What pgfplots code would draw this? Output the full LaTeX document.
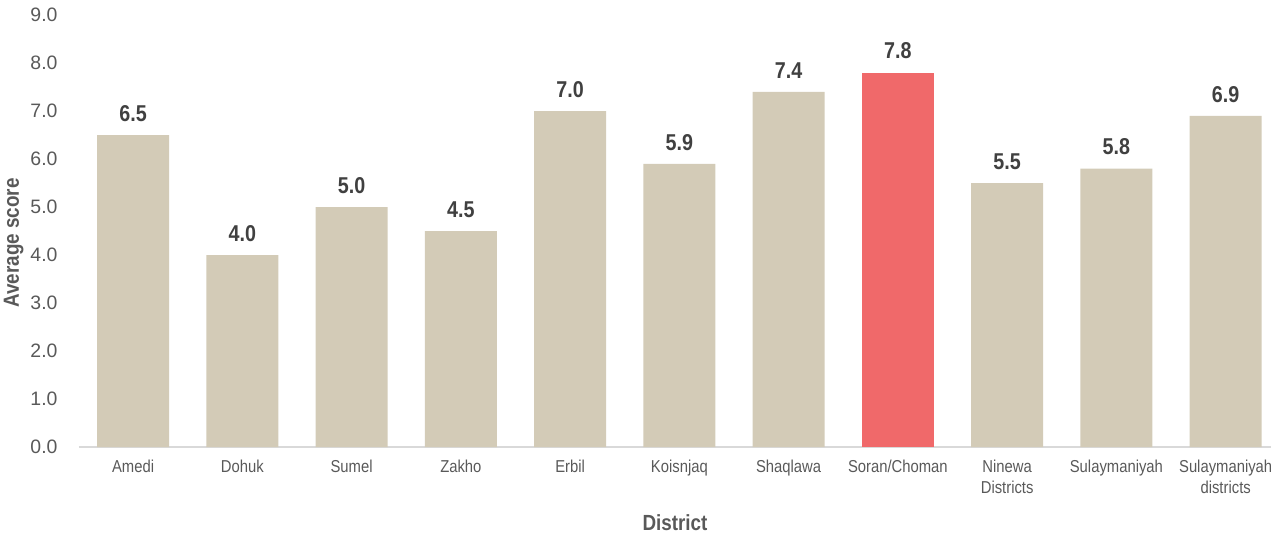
\documentclass[border=0pt]{standalone}
\usepackage{fontspec}
\setmainfont{Liberation Sans}[FakeStretch=0.86]
\newfontfamily\widesans{Liberation Sans}
\usepackage{pgfplots}
\pgfplotsset{compat=1.18}
\definecolor{barbeige}{HTML}{D3CBB7}
\definecolor{barred}{HTML}{F0696A}
\definecolor{ticktext}{HTML}{595959}
\definecolor{valtext}{HTML}{404040}
\definecolor{axisgray}{HTML}{D9D9D9}
\begin{document}
\begin{tikzpicture}
\begin{axis}[
  name=ax,
  scale only axis,
  width=1192bp, height=432bp,
  xmin=-0.495, xmax=10.415,
  ymin=0, ymax=9,
  ytick={0,1,...,9},
  yticklabel style={/pgf/number format/fixed, /pgf/number format/fixed zerofill, /pgf/number format/precision=1, /pgf/number format/assume math mode=true, font=\widesans\fontsize{19.5}{21}\selectfont, text=ticktext, xshift=-18bp},
  xtick={0,...,10},
  xticklabels={Amedi, Dohuk, Sumel, Zakho, Erbil, Koisnjaq, Shaqlawa, Soran/Choman, Ninewa\\Districts, Sulaymaniyah, Sulaymaniyah\\districts},
  xticklabel style={font=\fontsize{17.3}{22}\selectfont, text=ticktext, align=center, anchor=north, yshift=-9bp},
  major tick length=0pt,
  axis x line*=bottom,
  axis y line*=left,
  y axis line style={draw=none},
  x axis line style={axisgray, line width=1.2bp, -},
  ylabel={\textbf{Average score}},
  xlabel={\textbf{District}},
  xlabel style={font=\fontsize{22}{24}\selectfont, text=ticktext, yshift=-14bp},
  every axis y label/.style={at={(ticklabel cs:0.5)}, rotate=90, anchor=south, xshift=-12bp, font=\fontsize{22}{24}\selectfont, text=ticktext},
  ybar, bar width=72bp, bar shift=0pt,
  nodes near coords,
  nodes near coords style={font=\fontsize{23}{25}\selectfont\bfseries, text=valtext, /pgf/number format/fixed, /pgf/number format/fixed zerofill, /pgf/number format/precision=1, /pgf/number format/assume math mode=true, yshift=10bp},
  clip=false,
]
\addplot[fill=barbeige, draw=none] coordinates {
  (0,6.5) (1,4.0) (2,5.0) (3,4.5) (4,7.0) (5,5.9) (6,7.4) (8,5.5) (9,5.8) (10,6.9)
};
\addplot[fill=barred, draw=none] coordinates {(7,7.8)};
\end{axis}
\pgfresetboundingbox
\path ([xshift=-79bp,yshift=-90bp]ax.south west) rectangle ([yshift=15bp]ax.north east);
\end{tikzpicture}
\end{document}
